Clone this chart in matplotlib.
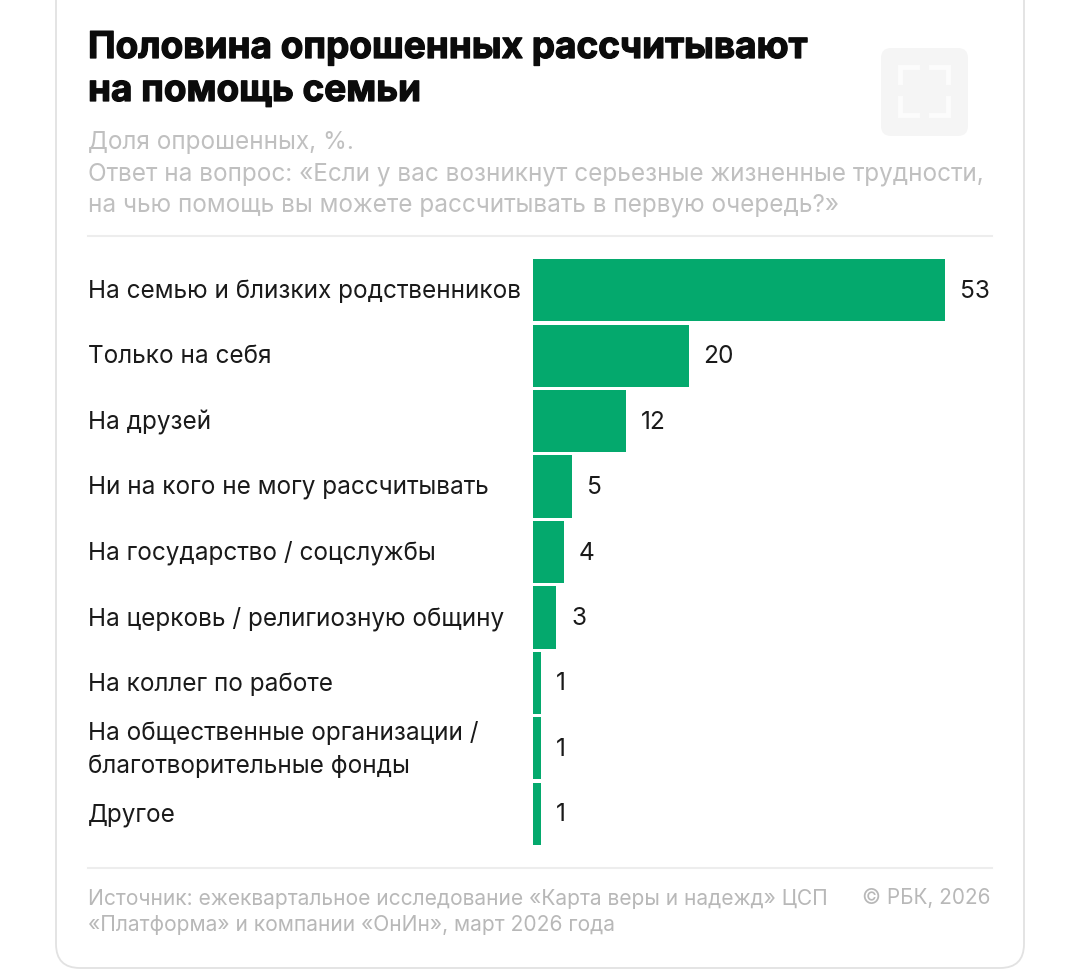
import matplotlib
matplotlib.use('Agg')
import matplotlib.pyplot as plt
import matplotlib.patheffects as pe
from matplotlib.patches import FancyBboxPatch

plt.rcParams['font.family'] = ['Inter', 'DejaVu Sans']

W, H = 1080, 971

categories = ['На семью и близких родственников', 'Только на себя', 'На друзей',
              'Ни на кого не могу рассчитывать', 'На государство / соцслужбы',
              'На церковь / религиозную общину', 'На коллег по работе',
              'На общественные организации /\nблаготворительные фонды', 'Другое']
values = [53, 20, 12, 5, 4, 3, 1, 1, 1]

title_lines = ['Половина опрошенных рассчитывают', 'на помощь семьи']
sub_lines = ['Доля опрошенных, %.',
             'Ответ на вопрос: «Если у вас возникнут серьезные жизненные трудности,',
             'на чью помощь вы можете рассчитывать в первую очередь?»']
source_lines = ['Источник: ежеквартальное исследование «Карта веры и надежд» ЦСП',
                '«Платформа» и компании «ОнИн», март 2026 года']
copyright_text = '© РБК, 2026'

fig = plt.figure(figsize=(W / 100, H / 100), dpi=100, facecolor='white')

# overlay in pixel coords for the card and the texts
bg = fig.add_axes([0, 0, 1, 1])
bg.set_xlim(0, W)
bg.set_ylim(H, 0)
bg.axis('off')

card = FancyBboxPatch((56, -40), 968, 1008, boxstyle='round,pad=0,rounding_size=24',
                      fc='white', ec='#e2e2e2', lw=1.3)
bg.add_patch(card)

# fullscreen button
bg.add_patch(FancyBboxPatch((881, 48), 87, 88, boxstyle='round,pad=0,rounding_size=10',
                            fc='#f5f5f5', ec='none'))
for xs, ys in [((900, 900, 917), (82, 67, 67)), ((931, 948, 948), (67, 67, 82)),
               ((900, 900, 917), (98, 115, 115)), ((931, 948, 948), (115, 115, 98))]:
    bg.plot(xs, ys, color='#fcfcfc', lw=3.5, solid_joinstyle='miter')

for y, line in zip([48, 91], title_lines):
    t = bg.text(88, y, line, fontsize=26.6, fontweight='bold', color='#0b0b0b', va='center', ha='left')
    t.set_path_effects([pe.withStroke(linewidth=0.9, foreground='#0b0b0b')])
for y, line in zip([143, 174, 205], sub_lines):
    bg.text(88, y, line, fontsize=17.5, color='#c0c0c0', va='center', ha='left')

bg.plot([88, 992], [236, 236], color='#ededed', lw=1.5)
bg.plot([88, 992], [868, 868], color='#ededed', lw=1.5)

for y, line in zip([899, 925], source_lines):
    bg.text(88, y, line, fontsize=15.1, color='#b8b8b8', va='center', ha='left')
bg.text(990, 898, copyright_text, fontsize=14.9, color='#b8b8b8', va='center', ha='right')

# bar chart, 7.78 px per percent from x=533
ax = fig.add_axes([533 / W, 1 - 846.5 / H, (W - 533) / W, 589 / H])
ax.patch.set_alpha(0)
ax.set_xlim(0, (W - 533) / 7.78)
ax.set_ylim(8.5, -0.5)
ax.axis('off')
pos = list(range(len(values)))
ax.barh(pos, values, height=0.95, color='#04a96d')
for i, v in zip(pos, values):
    ax.annotate(str(v), (v, i), xytext=(15, -1), textcoords='offset pixels',
                va='center', ha='left', fontsize=17.6, color='#1a1a1a')
    ax.annotate(categories[i], (0, i), xytext=(88 - 533, -1), textcoords='offset pixels',
                va='center', ha='left', fontsize=17.5, color='#1a1a1a', linespacing=1.5,
                annotation_clip=False)

fig.savefig('out.png', dpi=100)
